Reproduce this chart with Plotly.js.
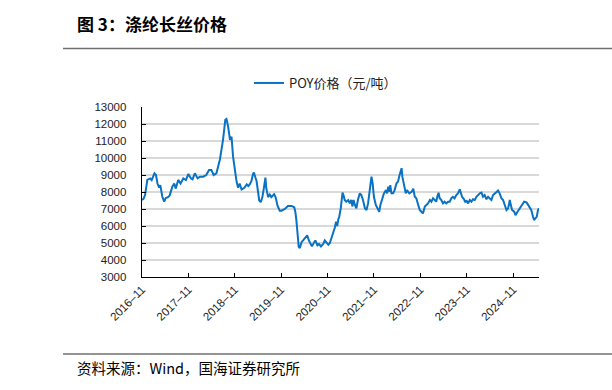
<!DOCTYPE html>
<html>
<head>
<meta charset="utf-8">
<script src="https://cdn.plot.ly/plotly-3.0.1.min.js"></script>
<style>
  html, body { margin: 0; padding: 0; background: #fff; }
  #chart { width: 612px; height: 390px; }
</style>
</head>
<body>
<div id="chart"></div>
<script>
// ---- Data ----
const chartTitle = '图 3：涤纶长丝价格';
const sourceNote = '资料来源：Wind，国海证券研究所';
const seriesName = 'POY价格（元/吨）';

const dates = [
  '2016-11-01','2016-11-13','2016-11-25','2016-12-13','2017-01-04','2017-01-16','2017-02-07','2017-02-19',
  '2017-03-03','2017-03-16','2017-03-25','2017-04-10','2017-04-25','2017-05-07','2017-05-25','2017-06-07',
  '2017-06-28','2017-07-13','2017-07-25','2017-08-13','2017-09-01','2017-09-22','2017-10-13','2017-11-01',
  '2017-11-22','2017-12-04','2017-12-22','2018-01-13','2018-02-01','2018-02-26','2018-03-22','2018-04-13',
  '2018-05-01','2018-05-19','2018-06-10','2018-07-07','2018-08-01','2018-08-19','2018-08-28','2018-09-10',
  '2018-09-25','2018-10-07','2018-10-19','2018-11-02','2018-11-16','2018-11-28','2018-12-10','2018-12-25',
  '2019-01-16','2019-02-04','2019-02-16','2019-02-27','2019-03-13','2019-03-25','2019-04-01','2019-04-13',
  '2019-04-22','2019-05-04','2019-05-13','2019-05-25','2019-06-07','2019-06-19','2019-07-01','2019-07-07',
  '2019-07-16','2019-07-22','2019-08-04','2019-08-16','2019-09-07','2019-09-19','2019-10-04','2019-10-22',
  '2019-11-04','2019-12-01','2019-12-25','2020-01-22','2020-02-13','2020-02-22','2020-03-01','2020-03-10',
  '2020-03-19','2020-03-28','2020-04-10','2020-04-22','2020-05-07','2020-05-19','2020-05-25','2020-06-07',
  '2020-06-22','2020-07-01','2020-07-19','2020-07-28','2020-08-13','2020-08-25','2020-09-10','2020-09-28',
  '2020-10-10','2020-10-25','2020-11-07','2020-11-19','2020-12-04','2020-12-16','2020-12-28','2021-01-07',
  '2021-01-16','2021-01-25','2021-02-01','2021-02-13','2021-02-19','2021-02-27','2021-03-07','2021-03-16',
  '2021-03-28','2021-04-13','2021-04-25','2021-05-07','2021-05-16','2021-05-25','2021-06-04','2021-06-16',
  '2021-06-28','2021-07-13','2021-07-25','2021-08-07','2021-08-22','2021-09-04','2021-09-16','2021-10-01',
  '2021-10-13','2021-10-22','2021-11-01','2021-11-16','2021-11-28','2021-12-13','2021-12-22','2022-01-07',
  '2022-01-19','2022-02-04','2022-02-13','2022-02-22','2022-03-04','2022-03-10','2022-03-19','2022-04-01',
  '2022-04-13','2022-04-28','2022-05-10','2022-05-22','2022-06-07','2022-06-13','2022-06-25','2022-07-10',
  '2022-07-19','2022-08-07','2022-08-25','2022-09-07','2022-09-19','2022-10-01','2022-10-16','2022-10-28',
  '2022-11-10','2022-11-22','2022-12-07','2022-12-19','2023-01-01','2023-01-16','2023-01-28','2023-02-10',
  '2023-02-25','2023-03-07','2023-03-15','2023-03-25','2023-04-03','2023-04-16','2023-04-29','2023-05-12',
  '2023-05-25','2023-06-08','2023-06-21','2023-07-03','2023-07-16','2023-07-29','2023-08-12','2023-08-25',
  '2023-09-08','2023-09-16','2023-09-26','2023-10-12','2023-10-22','2023-10-30','2023-11-13','2023-11-26',
  '2023-12-09','2023-12-21','2024-01-04','2024-01-17','2024-01-30','2024-02-13','2024-02-26','2024-03-09',
  '2024-03-22','2024-04-05','2024-04-18','2024-05-01','2024-05-14','2024-05-27','2024-06-10','2024-06-23',
  '2024-07-06','2024-07-18','2024-08-01','2024-08-14','2024-08-27','2024-09-10','2024-09-23','2024-10-06',
  '2024-10-14','2024-10-24','2024-11-10','2024-11-20','2024-12-06','2024-12-16','2025-01-01','2025-01-12',
  '2025-01-27','2025-02-15','2025-02-27','2025-03-11','2025-03-24','2025-04-07','2025-04-15','2025-04-25',
  '2025-05-06','2025-05-16','2025-05-24'
];

const poyPrice = [
  7530,7600,7820,8710,8800,8700,9100,9000,
  8500,8260,8400,7720,7430,7650,7700,7800,
  8310,8500,8200,8710,8500,8800,8700,9060,
  8800,8750,9100,8800,8900,8900,9000,9300,
  9300,9000,9100,9900,11070,12250,12300,11850,
  11070,11250,10080,9150,8600,8250,8500,8150,
  8250,8450,8350,8450,8650,9050,9150,8850,
  8650,8000,7500,7400,7700,8250,8850,8250,
  7950,7700,7850,7700,7870,7700,7200,6900,
  6900,7000,7180,7180,7100,6800,6300,5560,
  4770,4700,5050,5150,5300,5350,5450,5150,
  4870,4800,5050,5150,4870,4950,4800,4950,
  5150,5000,4900,5000,5300,5600,5900,6250,
  6000,6400,6540,7040,7720,7960,7800,7530,
  7430,7530,7330,7530,7150,7530,7250,7040,
  7530,7920,7820,7530,7040,6940,7330,8310,
  8900,8500,7720,7240,7040,6840,7240,7720,
  7920,8110,7920,8310,8010,8410,7920,7920,
  8110,8510,8610,9000,9400,8900,8410,7920,
  8110,7920,8010,8200,7720,7630,7240,6940,
  6840,6740,7140,7240,7330,7530,7430,7630,
  7530,7430,7720,7960,7630,7530,7330,7430,
  7330,7430,7430,7630,7720,7630,7820,7920,
  8160,8010,7720,7570,7390,7510,7330,7530,
  7430,7570,7530,7720,7820,7920,7960,7720,
  7820,7570,7720,7630,7530,7820,7920,7960,
  8080,7920,7630,7530,7230,6940,7040,7530,
  7230,6940,6840,6640,6840,6940,7140,7240,
  7430,7390,7240,7140,6940,6540,6350,6450,
  6540,6940,7040
];

const yTickValues = [3000,4000,5000,6000,7000,8000,9000,10000,11000,12000,13000];
const xRange = ['2016-11-01','2025-05-24'];

// ---- Layout helpers (pixel -> paper) ----
const W = 612, H = 390;
const M = {l: 142, r: 73, t: 107, b: 113};
const pw = W - M.l - M.r, ph = H - M.t - M.b;
const px = x => (x - M.l) / pw;
const py = y => (H - M.b - y) / ph;

const cjk = '"Noto Sans CJK SC", "Liberation Sans", Arial, sans-serif';
const latin = '"Liberation Sans", Arial, sans-serif';

const trace = {
  type: 'scatter', mode: 'lines',
  x: dates, y: poyPrice, name: seriesName,
  line: {color: '#0A72C2', width: 2},
  showlegend: true
};

const layout = {
  width: W, height: H,
  margin: M,
  paper_bgcolor: '#fff', plot_bgcolor: '#fff',
  showlegend: true,
  legend: {
    orientation: 'h', x: px(249), y: py(68), xanchor: 'left', yanchor: 'top',
    font: {family: cjk, size: 13, color: '#222'},
    bgcolor: 'rgba(0,0,0,0)', itemwidth: 30
  },
  xaxis: {
    type: 'date', range: xRange,
    tick0: '2016-11-01', dtick: 'M12', tickformat: '%Y–%m',
    tickangle: -45, ticks: 'inside', ticklen: 4, tickcolor: '#000', tickwidth: 1,
    showline: true, linecolor: '#000', linewidth: 1.3,
    showgrid: false, zeroline: false,
    tickfont: {family: latin, size: 11.5, color: '#222'}
  },
  yaxis: {
    range: [3000, 13000], tickvals: yTickValues, ticktext: yTickValues.map(String),
    ticks: 'inside', ticklen: 4, tickcolor: '#000', tickwidth: 1,
    showline: true, linecolor: '#000', linewidth: 1.3,
    showgrid: true, gridcolor: '#d9d9d9', gridwidth: 1.3,
    zeroline: false, ticklabelstandoff: 12,
    tickfont: {family: latin, size: 11.5, color: '#222'}
  },
  shapes: [
    {type: 'line', xref: 'paper', yref: 'paper', x0: px(63), x1: px(612), y0: py(48.5), y1: py(48.5),
     line: {color: '#707070', width: 1.5}},
    {type: 'line', xref: 'paper', yref: 'paper', x0: px(63), x1: px(612), y0: py(354), y1: py(354),
     line: {color: '#707070', width: 1.5}}
  ],
  annotations: [
    {text: '<b>' + chartTitle + '</b>', xref: 'paper', yref: 'paper', x: px(75), y: py(23),
     xanchor: 'left', yanchor: 'middle', showarrow: false,
     font: {family: cjk, size: 17, color: '#000'}},
    {text: sourceNote, xref: 'paper', yref: 'paper', x: px(75), y: py(367),
     xanchor: 'left', yanchor: 'middle', showarrow: false,
     font: {family: cjk, size: 14.5, color: '#000'}}
  ]
};

Plotly.newPlot('chart', [trace], layout, {displayModeBar: false, staticPlot: true});
</script>
</body>
</html>
